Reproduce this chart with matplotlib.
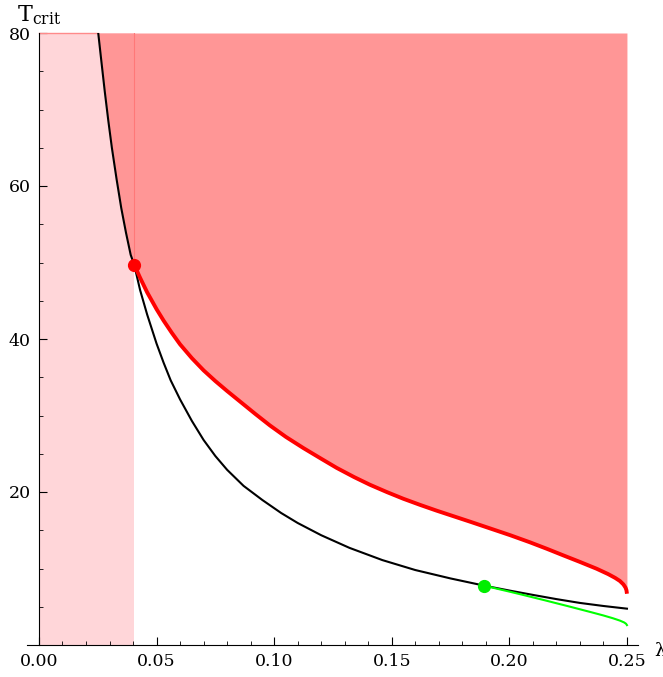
import matplotlib
matplotlib.use("Agg")
import matplotlib.pyplot as plt
import numpy as np

# black curve (lambda, T)
black_lam = [0.0252, 0.0265, 0.0280, 0.0295, 0.0310, 0.0330, 0.0350, 0.0370, 0.0390,
             0.0405, 0.0430, 0.0460, 0.0500, 0.0530, 0.0560, 0.0600, 0.0650, 0.0700,
             0.0750, 0.0800, 0.0870, 0.0950, 0.1030, 0.1100, 0.1200, 0.1320, 0.1460,
             0.1600, 0.1750, 0.1893, 0.2000, 0.2100, 0.2200, 0.2300, 0.2400, 0.2500]
black_T = [80.0, 76.4, 72.3, 68.5, 65.0, 60.9, 57.1, 53.9, 51.0,
           49.7, 46.4, 43.2, 39.4, 36.9, 34.6, 32.1, 29.3, 26.8,
           24.7, 22.9, 20.8, 18.95, 17.25, 15.95, 14.35, 12.7, 11.1,
           9.8, 8.7, 7.76, 7.12, 6.55, 6.0, 5.5, 5.1, 4.75]

# red curve (lower boundary of the dark shaded region)
red_lam = [0.0405, 0.0430, 0.0460, 0.0500, 0.0530, 0.0565, 0.0600, 0.0650, 0.0700,
           0.0750, 0.0800, 0.0860, 0.0920, 0.0982, 0.1050, 0.1124, 0.1200, 0.1266,
           0.1340, 0.1407, 0.1480, 0.1549, 0.1620, 0.1691, 0.1760, 0.1833, 0.1920,
           0.2003, 0.2088, 0.2160, 0.2229, 0.2300, 0.2371, 0.2420, 0.2450, 0.2470,
           0.2485, 0.2494, 0.2498, 0.2500]
red_T = [49.7, 48.0, 46.1, 43.9, 42.4, 40.8, 39.3, 37.5, 35.9,
         34.5, 33.2, 31.7, 30.2, 28.7, 27.2, 25.75, 24.35, 23.15,
         21.95, 20.95, 19.98, 19.12, 18.32, 17.56, 16.86, 16.12, 15.22,
         14.36, 13.42, 12.57, 11.72, 10.86, 9.97, 9.27, 8.77, 8.37,
         7.92, 7.5, 7.15, 6.7]

# green branch
green_lam = [0.1893, 0.1950, 0.2000, 0.2050, 0.2100, 0.2150, 0.2200, 0.2250, 0.2300,
             0.2350, 0.2400, 0.2440, 0.2470, 0.2488, 0.2496, 0.2500]
green_T = [7.76, 7.34, 6.98, 6.61, 6.23, 5.85, 5.46, 5.07, 4.67,
           4.27, 3.86, 3.5, 3.19, 2.95, 2.78, 2.6]

red_point = (0.0405, 49.7)
green_point = (0.1893, 7.76)
lam_band = 0.0405
T_max = 80

x_major = [0.00, 0.05, 0.10, 0.15, 0.20, 0.25]
y_major = [20, 40, 60, 80]

plt.rcParams["mathtext.fontset"] = "dejavuserif"

W, H = 663, 677
fig = plt.figure(figsize=(W / 100, H / 100), dpi=100)
ax = fig.add_axes([27.2 / W, 32 / H, (638 - 27.2) / W, (645 - 33) / H])
ax.set_xlim(-0.005, 0.2547)
ax.set_ylim(0, 80)

# light pink band
ax.fill_between([0, lam_band], 0, T_max, color="#FFD6D9", lw=0, zorder=1)

# dark shaded region: right of the black curve (inside the band), above the red curve beyond it
idx = [i for i, l in enumerate(black_lam) if l <= lam_band]
sh_lam = [black_lam[i] for i in idx] + red_lam[1:]
sh_T = [black_T[i] for i in idx] + red_T[1:]
ax.fill_between(sh_lam, sh_T, T_max, color="#FF9696", lw=0, zorder=2)
ax.plot([lam_band, lam_band], [red_point[1], T_max], color="#FF7878", lw=0.8, zorder=3)
ax.plot([0, black_lam[0]], [T_max, T_max], color="#FF8A8A", lw=1.0, zorder=3, clip_on=False)

ax.plot(black_lam, black_T, color="black", lw=1.5, zorder=4)
ax.plot(green_lam, green_T, color="#00FF00", lw=1.5, zorder=4)
ax.plot(red_lam, red_T, color="#FF0000", lw=2.8, zorder=5, solid_capstyle="butt")
ax.plot(*red_point, "o", color="#FF0000", ms=8.5, zorder=6)
ax.plot(*green_point, "o", color="#00EE00", ms=8.5, zorder=6)

for s in ["top", "right"]:
    ax.spines[s].set_visible(False)
ax.spines["left"].set_position(("data", 0))
ax.spines["left"].set_bounds(0, 80)
ax.spines["bottom"].set_zorder(7)
ax.spines["left"].set_zorder(7)

ax.set_xticks(x_major)
ax.set_xticklabels([f"{v:.2f}" for v in x_major])
ax.set_xticks(np.arange(0.01, 0.25, 0.01), minor=True)
ax.set_yticks(y_major)
ax.set_yticklabels([str(v) for v in y_major])
ax.set_yticks([v for v in range(5, 80, 5) if v not in y_major], minor=True)
ax.tick_params(which="major", direction="in", length=5.5, width=0.8, labelsize=12.5, pad=6)
ax.tick_params(which="minor", direction="in", length=3.2, width=0.6)
for lab in ax.get_xticklabels() + ax.get_yticklabels():
    lab.set_fontfamily("DejaVu Serif")

fig.text(17 / W, 1 - 15 / H, r"$\mathrm{T}_{\mathrm{crit}}$", fontsize=16, ha="left", va="center",
         family="DejaVu Serif")
fig.text(654 / W, 1 - 651 / H, "λ", fontsize=13, ha="left", va="center", family="DejaVu Serif")

fig.savefig("out.png", dpi=100)
